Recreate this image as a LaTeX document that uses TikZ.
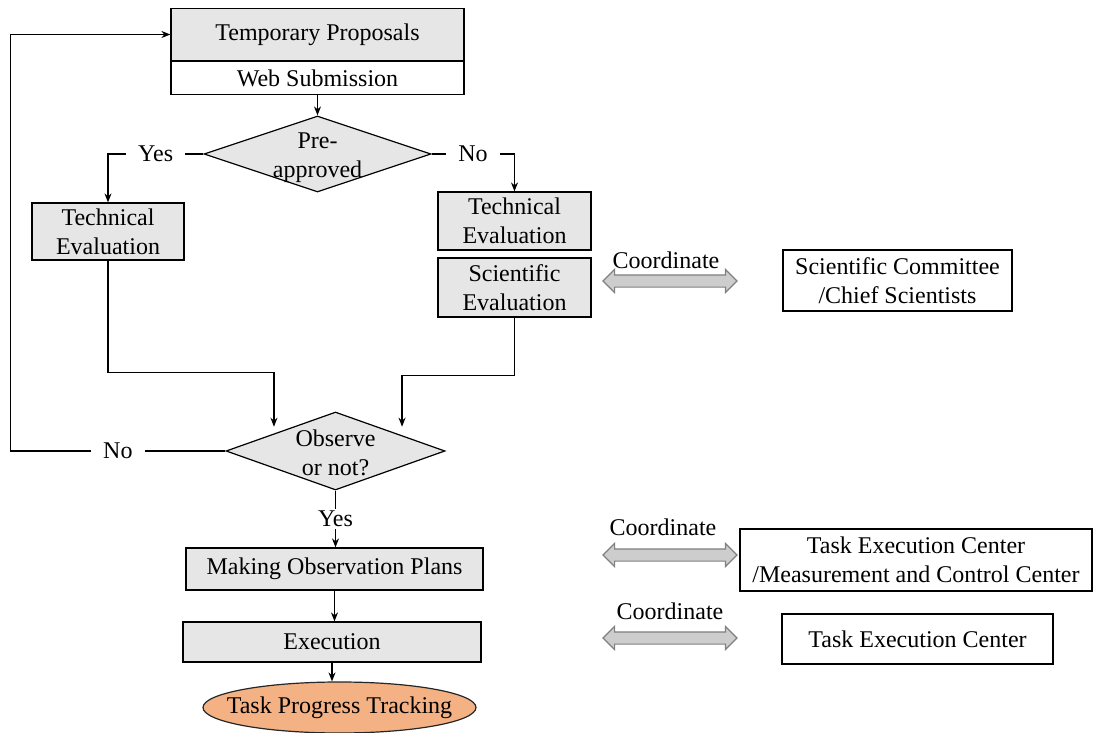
\documentclass[tikz,border=0pt]{standalone}
\usepackage{fontspec}
\setmainfont{Liberation Serif}
\usepackage{xcolor}
\definecolor{flowgray}{RGB}{231,230,230}
\definecolor{flowarrow}{RGB}{205,205,205}
\definecolor{floworange}{RGB}{244,177,131}
\usetikzlibrary{shapes.geometric,shapes.arrows,arrows.meta,positioning,calc}

\begin{document}
\begin{tikzpicture}[x=0.5pt, y=-0.5pt, line width=0.6pt,
    >={Stealth[length=4.5pt,width=3.5pt]},
    every node/.style={font=\fontsize{12}{14.5}\selectfont},
    box/.style={draw, rectangle, fill=flowgray, inner sep=0pt, align=center},
    plain/.style={draw, rectangle, fill=white, inner sep=0pt, align=center},
    decision/.style={draw, diamond, fill=flowgray, inner sep=0pt},
    coord/.style={double arrow, draw=gray, fill=flowarrow, inner sep=2.75pt,
        double arrow head extend=2.75pt, minimum height=67pt},
    tag/.style={fill=white, inner xsep=6pt, inner ysep=1pt}]
    \useasboundingbox (0,0) rectangle (1099,733);

    % Submission
    \node[box, minimum width=146.5pt, minimum height=26pt] (tp) at (317.5,34.5) {Temporary Proposals};
    \node[plain, minimum width=146.5pt, minimum height=16.5pt, anchor=north] (web) at (tp.south) {Web Submission};
    \node[decision, minimum width=113.5pt, minimum height=38pt,
        label={[align=center, yshift=-2pt]center:{Pre-\\approved}}] (pre) at (317.5,154) {};

    % Evaluation
    \node[box, minimum width=76pt, minimum height=28.5pt] (tel) at (108,231.5) {Technical\\Evaluation};
    \node[box, minimum width=76.5pt, minimum height=29pt] (ter) at (514.5,221) {Technical\\Evaluation};
    \node[box, minimum width=76.5pt, minimum height=29.5pt] (sev) at (514.5,287.5) {Scientific\\Evaluation};
    \node[plain, minimum width=114.5pt, minimum height=30.5pt] (sc) at (897.5,280.5) {Scientific Committee\\/Chief Scientists};
    \node[coord] (ca1) at (670,281) {};
    \node (cl1) at (666,260) {Coordinate};

    % Decision and execution
    \node[decision, minimum width=109.5pt, minimum height=39pt,
        label={[align=center, yshift=-1pt]center:{Observe\\or not?}}] (obs) at (335.5,451) {};
    \node[box, minimum width=148.5pt, minimum height=21pt] (mop) at (334.5,569) {Making Observation Plans};
    \node[box, minimum width=149pt, minimum height=20pt] (exe) at (332,642) {Execution};
    \node[ellipse, draw=black!85, fill=floworange, minimum width=136.5pt, minimum height=25.5pt,
        inner sep=0pt, label=center:Task Progress Tracking] (tpt) at (339.5,707.5) {};

    \node[plain, minimum width=176pt, minimum height=31pt] (tec) at (916,560) {Task Execution Center\\/Measurement and Control Center};
    \node[coord] (ca2) at (670,555) {};
    \node (cl2) at (663,527) {Coordinate};
    \node[plain, minimum width=135.5pt, minimum height=25pt] (te) at (917.5,639) {Task Execution Center};
    \node[coord] (ca3) at (670,638) {};
    \node (cl3) at (670,611) {Coordinate};

    % Connectors
    \draw[->] (web.south) -- (pre.north);
    \draw[->] (pre.west) -| node[tag, pos=0.25] {Yes} (tel.north);
    \draw[->] (pre.east) -| node[tag, pos=0.25] {No} (ter.north);
    \draw[->] (tel.south) -- ++(0,112) -| ($(obs.north west)+(-6.5,-4.5)$);
    \draw[->] (sev.south) -- ++(0,58) -| ($(obs.north east)+(11.5,-4.5)$);
    \draw[->] (obs.west) -- node[tag] {No} ++(-215,0) |- (tp.west);
    \draw[->] (obs.south) -- node[tag] {Yes} (obs.south |- mop.north);
    \draw[->] (mop.south) -- (mop.south |- exe.north);
    \draw[->] (exe.south) -- (exe.south |- tpt.north);
\end{tikzpicture}
\end{document}
